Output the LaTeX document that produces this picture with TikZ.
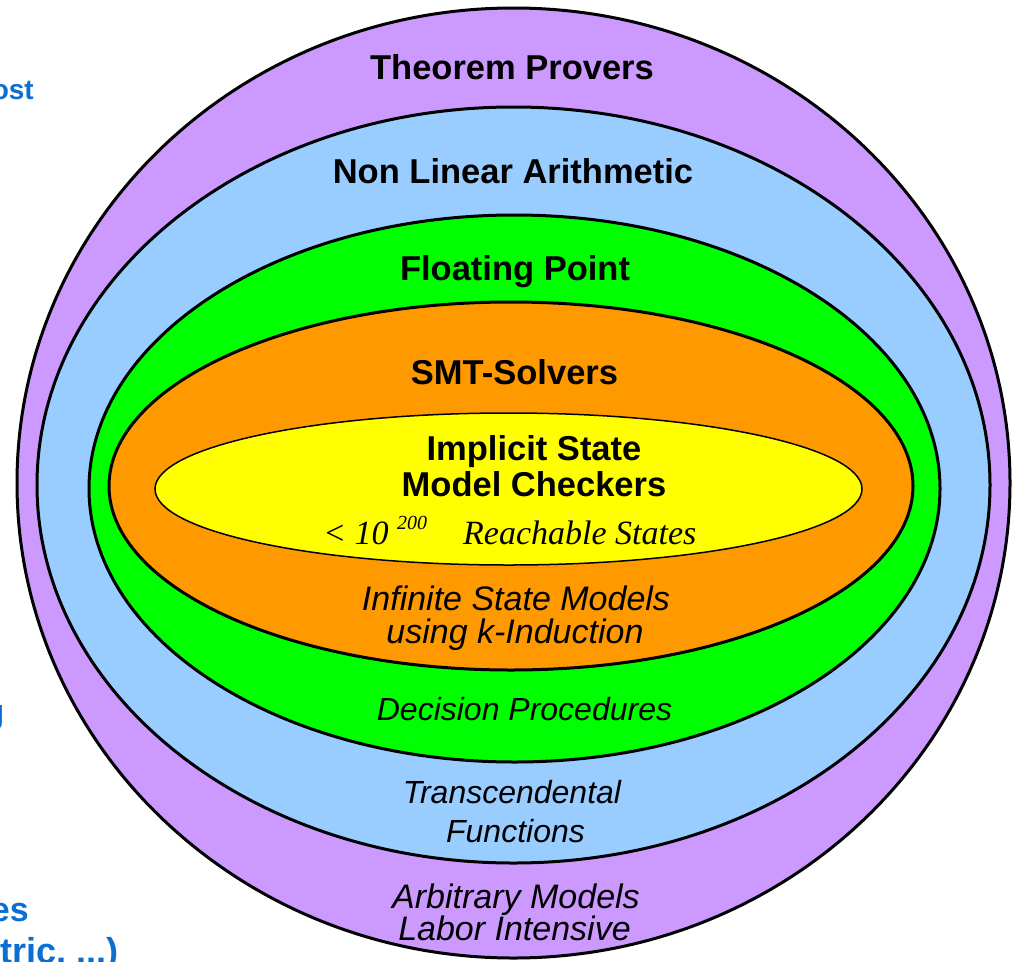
\documentclass[tikz,border=0pt]{standalone}
\usepackage{fontspec}
\setmainfont{Liberation Sans}
\newfontfamily\serifit{Liberation Serif}[ItalicFont={* Italic}]
\definecolor{ringpurple}{RGB}{204,153,255}
\definecolor{ringblue}{RGB}{153,204,255}
\definecolor{ringgreen}{RGB}{0,255,0}
\definecolor{ringorange}{RGB}{255,153,0}
\definecolor{ringyellow}{RGB}{255,255,0}
\definecolor{sidetext}{RGB}{10,110,210}
\tikzset{
  ring/.style={draw=black, line width=3pt},
  title/.style={inner sep=0pt, anchor=base, font=\bfseries\fontsize{34.5}{40}\selectfont},
  note/.style={inner sep=0pt, anchor=base, font=\itshape\fontsize{34}{40}\selectfont},
  smallnote/.style={inner sep=0pt, anchor=base, font=\itshape\fontsize{32}{38}\selectfont},
  sidenote/.style={inner sep=0pt, anchor=base east, text=sidetext, font=\bfseries\fontsize{34}{40}\selectfont},
}
\begin{document}
\begin{tikzpicture}[x=1pt,y=-1pt]
\useasboundingbox (0,0) rectangle (1019,961);
\clip (0,0) rectangle (1019,961);
\fill[white] (0,0) rectangle (1019,961);

% nested rings, outermost first
\filldraw[ring, fill=ringpurple] (513.5,483) ellipse [x radius=496.5pt, y radius=475pt];
\filldraw[ring, fill=ringblue]   (513.5,485) ellipse [x radius=476.5pt, y radius=378pt];
\filldraw[ring, fill=ringgreen]  (514.5,488.5) ellipse [x radius=425.5pt, y radius=273.5pt];
\filldraw[ring, fill=ringorange] (511,486) ellipse [x radius=402pt, y radius=184pt];
\filldraw[draw=black, line width=1.5pt, fill=ringyellow] (508.5,489) ellipse [x radius=353.5pt, y radius=76pt];

% ring titles
\node[title] (tp)  at (512,79)  {Theorem Provers};
\node[title] (nla) at (513,183) {Non Linear Arithmetic};
\node[title] (fp)  at (515,280) {Floating Point};
\node[title] (smt) at (514.5,384) {SMT-Solvers};
\node[title] (isa) at (534,460) {Implicit State};
\node[title] (isb) at (534,496) {Model Checkers};

% reachable states line
\node[inner sep=0pt, anchor=base west, font=\serifit\itshape\fontsize{34}{40}\selectfont] (lt) at (323,544) {< 10};
\node[inner sep=0pt, anchor=base west, font=\serifit\itshape\fontsize{20}{24}\selectfont] (exp) at (397,529) {200};
\node[inner sep=0pt, anchor=base west, font=\serifit\itshape\fontsize{34}{40}\selectfont] (rs) at (463,544) {Reachable States};

% ring descriptions
\node[note] (ism1) at (516,610) {Infinite State Models};
\node[note] (ism2) at (515,643) {using k-Induction};
\node[smallnote] (dp) at (524.5,720) {Decision Procedures};
\node[smallnote] (tf1) at (512,803) {Transcendental};
\node[smallnote] (tf2) at (515.5,842) {Functions};
\node[note] (am1) at (516,908) {Arbitrary Models};
\node[note] (am2) at (514.5,940) {Labor Intensive};

% side text running off the left edge
\node[sidenote, font=\bfseries\fontsize{28}{32}\selectfont] (s1) at (34,99) {ost};
\node[sidenote] (s2) at (4.5,723) {g};
\node[sidenote] (s3) at (29,921) {es};
\node[sidenote, font=\bfseries\fontsize{36}{40}\selectfont] (s4) at (119,963) {tric, ...)};
\end{tikzpicture}
\end{document}
